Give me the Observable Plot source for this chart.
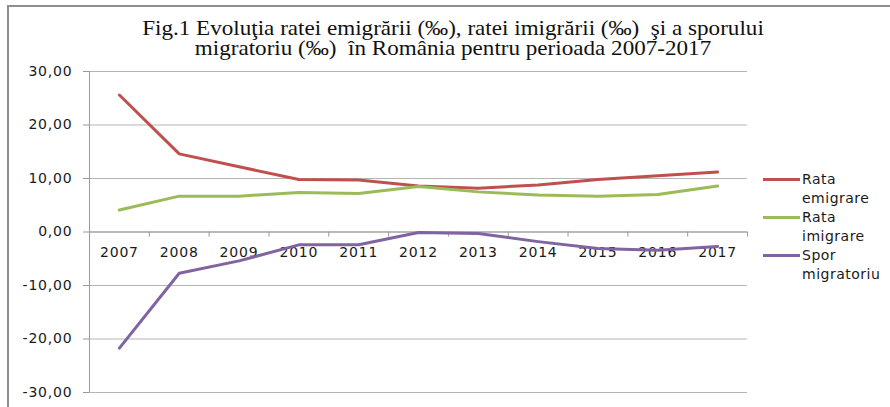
<!DOCTYPE html>
<html>
<head>
<meta charset="utf-8">
<script src="https://cdn.jsdelivr.net/npm/d3@7"></script>
<script src="https://cdn.jsdelivr.net/npm/@observablehq/plot@0.6"></script>
<style>
  html, body { margin: 0; padding: 0; background: #fff; }
  #wrap { position: relative; width: 890px; height: 407px; overflow: hidden; background: #fff; }
  #border { position: absolute; left: 7px; top: 5px; width: 900px; height: 420px;
            border-top: 2px solid #8e8e8e; border-left: 2px solid #8e8e8e; }
  #title { position: absolute; left: 8px; top: 18px; width: 890px; text-align: center;
           font-family: "Liberation Serif", "Times New Roman", serif; font-size: 21px;
           line-height: 20px; color: #111; white-space: pre; transform: scaleX(1.1); transform-origin: 445px 0; }
  #chart { position: absolute; left: 0; top: 0; }
  .leg { position: absolute; left: 763px; font-family: "DejaVu Sans", sans-serif; font-size: 14px;
         letter-spacing: 0.5px; line-height: 19px; color: #1a1a1a; }
  .sw { position: absolute; left: 0; top: 8px; width: 37px; height: 3px; }
  .lt { position: absolute; left: 39px; top: 0; white-space: nowrap; }
</style>
</head>
<body>
<div id="wrap">
  <div id="border"></div>
  <div id="chart"></div>
  <div id="title"></div>
  <div id="legend"></div>
</div>
<script>
const titleLines = [
  "Fig.1 Evoluţia ratei emigrării (‰), ratei imigrării (‰)  şi a sporului",
  "migratoriu (‰)  în România pentru perioada 2007-2017"
];
const years = [2007, 2008, 2009, 2010, 2011, 2012, 2013, 2014, 2015, 2016, 2017];
const rataEmigrare = [25.6, 14.6, 12.2, 9.8, 9.7, 8.6, 8.2, 8.8, 9.8, 10.5, 11.2];
const rataImigrare = [4.1, 6.7, 6.7, 7.4, 7.2, 8.5, 7.5, 6.9, 6.7, 7.0, 8.6];
const sporMigratoriu = [-21.7, -7.7, -5.4, -2.4, -2.4, -0.1, -0.3, -1.8, -3.1, -3.4, -2.7];
const seriesNames = ["Rata emigrare", "Rata imigrare", "Spor migratoriu"];
const legendLines = [["Rata", "emigrare"], ["Rata", "imigrare"], ["Spor", "migratoriu"]];
const seriesColors = ["#C0504D", "#9BBB59", "#8064A2"];
const yTicks = [-30, -20, -10, 0, 10, 20, 30];

const seriesValues = [rataEmigrare, rataImigrare, sporMigratoriu];
const data = [];
seriesNames.forEach((s, k) => years.forEach((yr, i) => data.push({series: s, year: yr, value: seriesValues[k][i]})));
const boundaries = d3.range(years.length + 1).map(i => years[0] - 0.5 + i);

document.getElementById("title").textContent = titleLines.join("\n");

const fmt = d => d3.format(".2f")(d).replace(".", ",").replace("−", "-");

const chart = Plot.plot({
  width: 890,
  height: 407,
  marginLeft: 89,
  marginRight: 143,
  marginTop: 71,
  marginBottom: 15,
  style: {fontFamily: "DejaVu Sans, sans-serif", fontSize: "14px", letterSpacing: "0.8px", color: "#1a1a1a", background: "transparent"},
  x: {type: "linear", domain: [years[0] - 0.5, years[years.length - 1] + 0.5], axis: null},
  y: {domain: [-30, 30], axis: null},
  color: {domain: seriesNames, range: seriesColors},
  marks: [
    Plot.gridY(yTicks, {stroke: "#b5b5b5", strokeOpacity: 1, strokeWidth: 1}),
    Plot.ruleX([boundaries[0]], {stroke: "#9a9a9a", strokeWidth: 1}),
    Plot.axisY({ticks: yTicks, tickFormat: fmt, tickSize: 6, tickPadding: 11, label: null, stroke: "#9a9a9a", fill: "#1a1a1a", fontSize: 14}),
    Plot.ruleY([0], {stroke: "#9a9a9a", strokeWidth: 1}),
    Plot.ruleX(boundaries, {x: d => d, y1: 0, y2: -0.95, stroke: "#9a9a9a", strokeWidth: 1}),
    Plot.text(years, {x: d => d, y: 0, dy: 21, text: d => String(d), fill: "#1a1a1a", fontSize: 14}),
    Plot.line(data, {x: "year", y: "value", stroke: "series", strokeWidth: 3, strokeLinejoin: "round"})
  ]
});
document.getElementById("chart").appendChild(chart);

const legend = document.getElementById("legend");
const legendTops = [170, 208, 246];
seriesNames.forEach((s, k) => {
  const item = document.createElement("div");
  item.className = "leg";
  item.style.top = legendTops[k] + "px";
  const sw = document.createElement("div");
  sw.className = "sw";
  sw.style.background = seriesColors[k];
  const lt = document.createElement("div");
  lt.className = "lt";
  lt.innerHTML = legendLines[k].join("<br>");
  item.appendChild(sw);
  item.appendChild(lt);
  legend.appendChild(item);
});
</script>
</body>
</html>
